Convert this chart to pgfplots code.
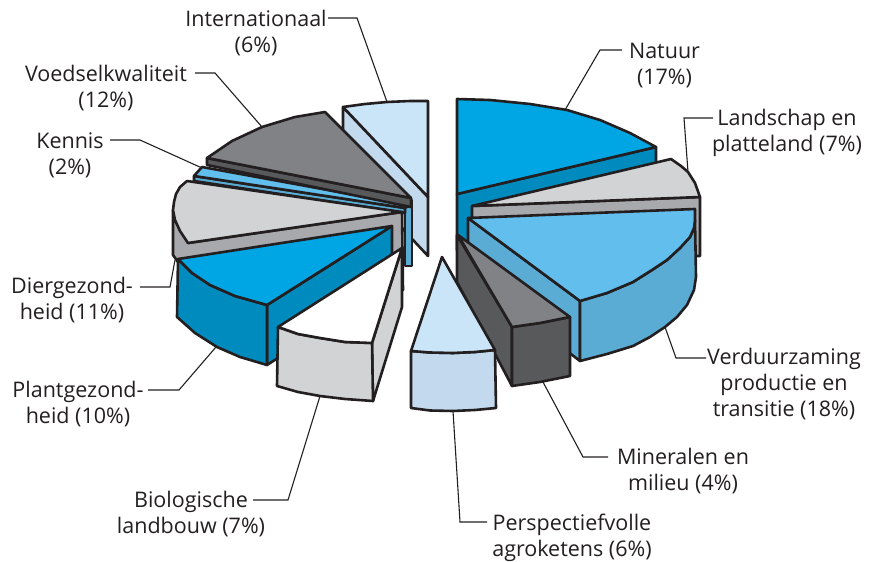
\documentclass[border=0pt]{standalone}
\usepackage{fontspec}
\setmainfont{Open Sans}
\usepackage{pgfplots}
\pgfplotsset{compat=1.18}
\definecolor{ink}{HTML}{231F20}
\definecolor{natT}{HTML}{00A6E4}
\definecolor{natS}{HTML}{008BBF}
\definecolor{lbT}{HTML}{62BEEC}
\definecolor{lbS}{HTML}{5BACD4}
\definecolor{grT}{HTML}{D1D3D4}
\definecolor{grS}{HTML}{A7A9AC}
\definecolor{dkT}{HTML}{808285}
\definecolor{dkS}{HTML}{58595B}
\definecolor{paT}{HTML}{CAE5F8}
\definecolor{paS}{HTML}{C3D9EE}
\pgfplotsset{
  face/.style={draw=ink,fill=#1,line width=2.6pt,line join=round,line cap=round,no marks},
  leader/.style={draw=ink,line width=1.1pt,no marks,line join=miter}
}
\tikzset{lab/.style={align=center,anchor=center,inner sep=0pt,text=ink,font=\fontsize{21.5}{26}\selectfont}}
\begin{document}
\begin{tikzpicture}
\begin{axis}[hide axis,scale only axis,width=870pt,height=560pt,xmin=0,xmax=870,ymin=0,ymax=560,y dir=reverse,clip=false]
% leaders
\addplot[leader] coordinates {(565,110)(600,50)(622,50)};
\addplot[leader] coordinates {(688,172)(684,118)(713,118)};
\addplot[leader] coordinates {(665,327)(676,358)(706,358)};
\addplot[leader] coordinates {(543,382)(583,457)(608,457)};
\addplot[leader] coordinates {(453,411)(460,522)(487,522)};
\addplot[leader] coordinates {(320,396)(288,500)(253,500)};
\addplot[leader] coordinates {(216,347)(179,390)(148,390)};
\addplot[leader] coordinates {(175,260)(170,287)(140,287)};
\addplot[leader] coordinates {(202,168)(140,140)(110,140)};
\addplot[leader] coordinates {(262,127)(215,73)(195,73)};
\addplot[leader] coordinates {(387,102)(357,18)(328,18)};
% Internationaal
\addplot[face=paS] coordinates {(343,107)(428,197)(428,256)(343,165)} -- cycle;
\addplot[face=paT] coordinates {(343,107)(365,104)(387,102)(410,101)(428,101)(428,197)} -- cycle;
% Kennis
\addplot[face=lbS] coordinates {(405,200)(412,200)(412,266)(405,266)} -- cycle;
\addplot[face=lbS] coordinates {(194,176)(405,208)(405,213)(194,181)} -- cycle;
\addplot[face=lbT] coordinates {(202,167)(194,176)(405,208)(410,205)} -- cycle;
% Voedselkwaliteit
\addplot[face=dkS] coordinates {(207,158)(411,198)(411,207)(207,165)} -- cycle;
\addplot[face=dkT] coordinates {(207,158)(232,141)(262,127)(295,117)(325,112)(411,198)} -- cycle;
% Diergezondheid
\addplot[face=grS] coordinates {(173,210)(176,222)(188,243)(402,212)(403,290)(188,290)(178,262)(173,255)} -- cycle;
\addplot[face=grT] coordinates {(187,181)(180,187)(176,194)(174,202)(173,210)(175,220)(180,231)(188,243)(402,212)} -- cycle;
% Plantgezondheid
\addplot[face=natS] coordinates {(267,305)(392,226)(392,285)(267,365)} -- cycle;
\addplot[face=natS] coordinates {(178,259)(192,273)(210,285)(235,296)(267,305)(267,365)(240,357)(217,347)(195,333)(177,317)} -- cycle;
\addplot[face=natT] coordinates {(178,259)(392,226)(267,305)(235,296)(210,285)(192,273)} -- cycle;
% Biologische landbouw
\addplot[face=grT] coordinates {(372,343)(402,248)(402,307)(373,401)} -- cycle;
\addplot[face=grT] coordinates {(278,327)(298,334)(320,338)(345,342)(372,343)(373,401)(345,399)(320,396)(298,392)(277,386)} -- cycle;
\addplot[face=white] coordinates {(402,248)(278,327)(298,334)(320,338)(345,342)(372,343)} -- cycle;
% Natuur
\addplot[face=natS] coordinates {(457,194)(656,147)(656,205)(457,250)} -- cycle;
\addplot[face=natT] coordinates {(457,99)(490,100)(530,104)(567,110)(600,120)(630,133)(656,147)(457,194)} -- cycle;
% Landschap
\addplot[face=grS] coordinates {(472,206)(700,197)(700,256)(472,256)} -- cycle;
\addplot[face=grT] coordinates {(472,206)(671,159)(681,166)(688,172)(695,183)(700,197)} -- cycle;
% Verduurzaming
\addplot[face=lbS] coordinates {(468,218)(580,301)(580,361)(468,275)} -- cycle;
\addplot[face=lbS] coordinates {(580,301)(607,293)(633,282)(652,270)(667,260)(680,248)(690,237)(694,228)(695,220)(696,277)(694,290)(687,305)(677,317)(665,327)(650,337)(633,346)(607,354)(580,361)} -- cycle;
\addplot[face=lbT] coordinates {(468,218)(695,209)(695,220)(694,228)(690,237)(680,248)(667,260)(652,270)(633,282)(607,293)(580,301)} -- cycle;
% Mineralen
\addplot[face=dkS] coordinates {(457,235)(512,327)(512,386)(457,282)} -- cycle;
\addplot[face=dkS] coordinates {(512,327)(540,323)(570,317)(570,376)(540,382)(512,386)} -- cycle;
\addplot[face=dkT] coordinates {(458,235)(570,317)(540,323)(512,327)} -- cycle;
% Perspectiefvolle
\addplot[face=paS] coordinates {(411,351)(430,352.5)(453,353)(475,352)(495,350)(496,408)(475,410)(453,411)(430,410.5)(411,408)} -- cycle;
\addplot[face=paT] coordinates {(442,257)(495,350)(475,352)(453,353)(430,352.5)(411,351)} -- cycle;
% labels
\node[lab] at (axis cs:664.5,65.5) {Natuur\\(17\%)};
\node[lab] at (axis cs:787,132.5) {Landschap en\\platteland (7\%)};
\node[lab] at (axis cs:784,384.5) {Verduurzaming\\productie en\\transitie (18\%)};
\node[lab] at (axis cs:683,471.5) {Mineralen en\\milieu (4\%)};
\node[lab] at (axis cs:572,537.5) {Perspectiefvolle\\agroketens (6\%)};
\node[lab] at (axis cs:191,514.5) {Biologische\\landbouw (7\%)};
\node[lab] at (axis cs:78,404.5) {Plantgezond-\\heid (10\%)};
\node[lab] at (axis cs:72,300.5) {Diergezond-\\heid (11\%)};
\node[lab] at (axis cs:70,155.5) {Kennis\\(2\%)};
\node[lab] at (axis cs:106,88.5) {Voedselkwaliteit\\(12\%)};
\node[lab] at (axis cs:256,33) {Internationaal\\(6\%)};
\end{axis}
\path[use as bounding box] (0,0) rectangle (870pt,560pt);
\end{tikzpicture}
\end{document}
